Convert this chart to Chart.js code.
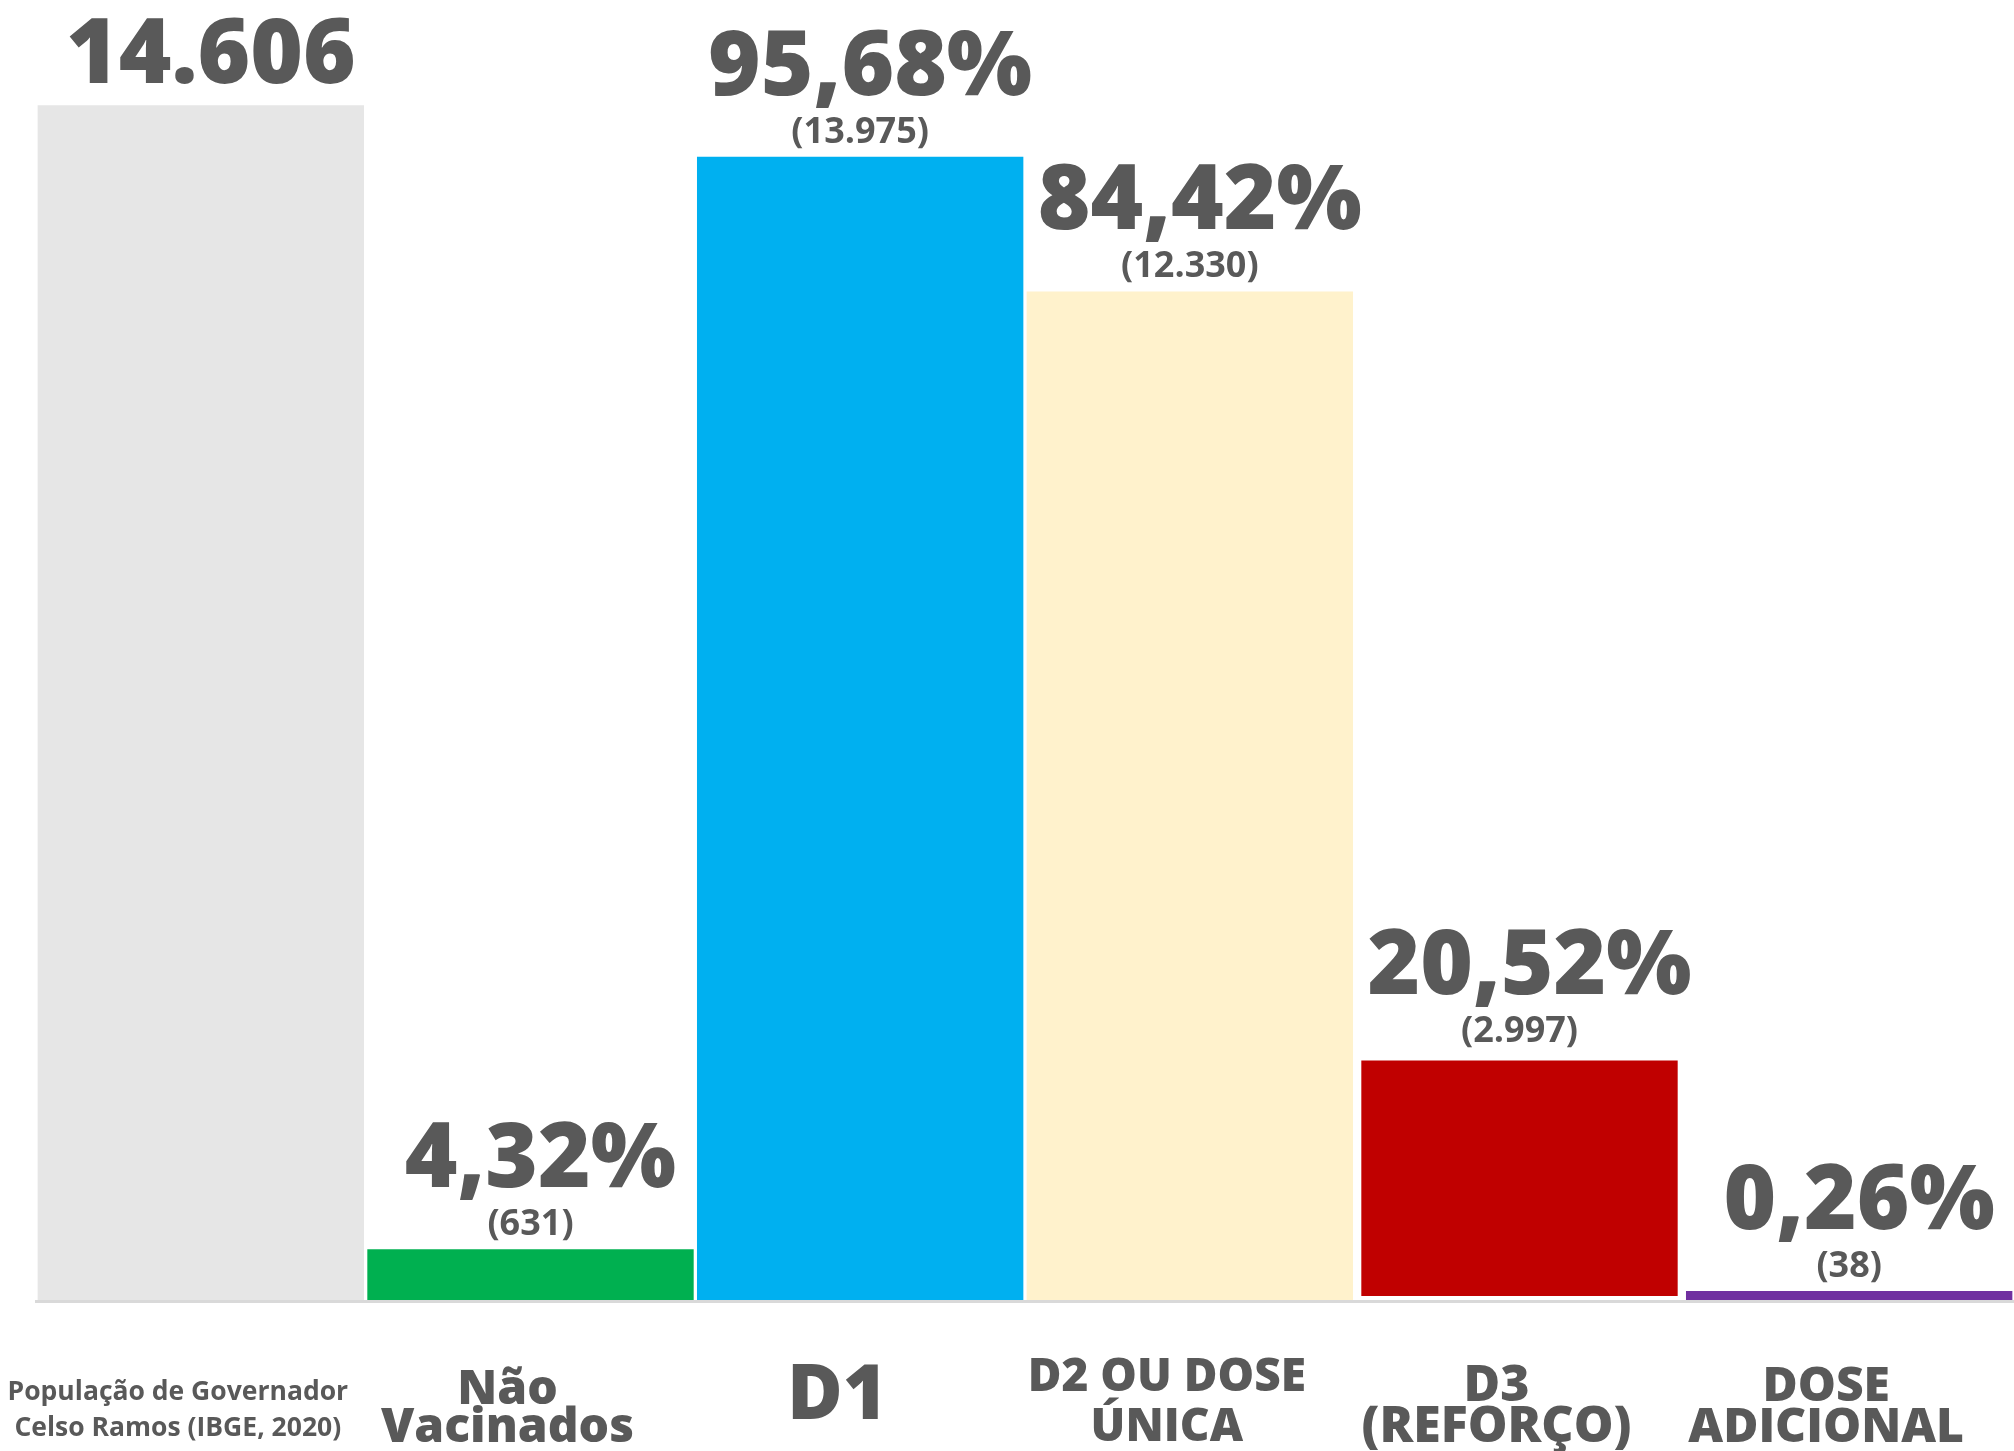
<!DOCTYPE html>
<html lang="pt-BR">
<head>
  <meta charset="UTF-8">
  <title>Vacinação - Governador Celso Ramos</title>
  <script src="https://cdn.jsdelivr.net/npm/chart.js"></script>
  <style>
    html, body { margin: 0; padding: 0; background: #fff; }
  </style>
</head>
<body>
  <canvas id="vacChart" width="2014" height="1451"></canvas>

  <script>
    // data
    const categories = [
      ['População de Governador', 'Celso Ramos (IBGE, 2020)'],
      ['Não', 'Vacinados'],
      'D1',
      ['D2 OU DOSE', 'ÚNICA'],
      ['D3', '(REFORÇO)'],
      ['DOSE', 'ADICIONAL']
    ];
    const counts = [14606, 631, 13975, 12330, 2997, 38];
    const mainLabels = ['14.606', '4,32%', '95,68%', '84,42%', '20,52%', '0,26%'];
    const countLabels = ['', '(631)', '(13.975)', '(12.330)', '(2.997)', '(38)'];

    const barColors = ['#e6e6e6', '#00b050', '#00b0f0', '#fff2cc', '#c00000', '#7030a0'];
    const textColor = '#595959';

    // fonts for the category labels under the bars
    const tickFonts = [
      { family: 'Open Sans', size: 26.5, weight: 700, lineHeight: '36px' },
      { family: 'Open Sans', size: 48, weight: 800, lineHeight: '38px' },
      { family: 'Open Sans', size: 76, weight: 800, lineHeight: '62px' },
      { family: 'Open Sans', size: 46, weight: 800, lineHeight: '50px' },
      { family: 'Open Sans', size: 50, weight: 800, lineHeight: '41px' },
      { family: 'Open Sans', size: 48, weight: 800, lineHeight: '41px' }
    ];

    // draws the big percentage and the count above each bar
    const valueLabels = {
      id: 'valueLabels',
      afterDatasetsDraw(chart) {
        const ctx = chart.ctx;
        const bars = chart.getDatasetMeta(0).data;
        ctx.save();
        ctx.fillStyle = textColor;
        ctx.textAlign = 'center';
        ctx.textBaseline = 'alphabetic';
        bars.forEach((bar, i) => {
          const top = bar.y;
          if (countLabels[i]) {
            const subY = top - 14;
            ctx.font = '700 36px "Open Sans"';
            ctx.fillText(countLabels[i], bar.x, subY);
            ctx.font = '800 90px "Open Sans"';
            ctx.fillText(mainLabels[i], bar.x + 10, subY - 48);
          } else {
            ctx.font = '800 90px "Open Sans"';
            ctx.fillText(mainLabels[i], bar.x + 10, top - 22);
          }
        });
        ctx.restore();
      }
    };

    const ctx = document.getElementById('vacChart').getContext('2d');
    new Chart(ctx, {
      type: 'bar',
      data: {
        labels: categories,
        datasets: [{
          data: counts,
          backgroundColor: barColors,
          borderColor: ['#fff', '#fff', '#fff', '#fff', '#fff', '#fff'],
          borderWidth: [0, 0, 0, 0, 5, 0],
          borderSkipped: false,
          barPercentage: 0.99,
          categoryPercentage: 1,
          minBarLength: 10
        }]
      },
      options: {
        responsive: false,
        devicePixelRatio: 1,
        animation: false,
        layout: { padding: { left: 36, top: 0, right: 0, bottom: 0 } },
        plugins: {
          legend: { display: false },
          tooltip: { enabled: false }
        },
        scales: {
          x: {
            grid: { display: false, drawTicks: false },
            border: { display: true, color: '#d9d9d9', width: 3, z: 1 },
            ticks: {
              color: textColor,
              padding: 77,
              crossAlign: 'center',
              maxRotation: 0,
              autoSkip: false,
              labelOffset: -23,
              font: (c) => tickFonts[c.index] || tickFonts[0]
            },
            afterFit: (scale) => {
              scale.height = 150;
              scale.paddingLeft = 0;
              scale.paddingRight = 0;
            }
          },
          y: {
            display: false,
            min: 0,
            max: 15890
          }
        }
      },
      plugins: [valueLabels]
    });
  </script>
</body>
</html>
